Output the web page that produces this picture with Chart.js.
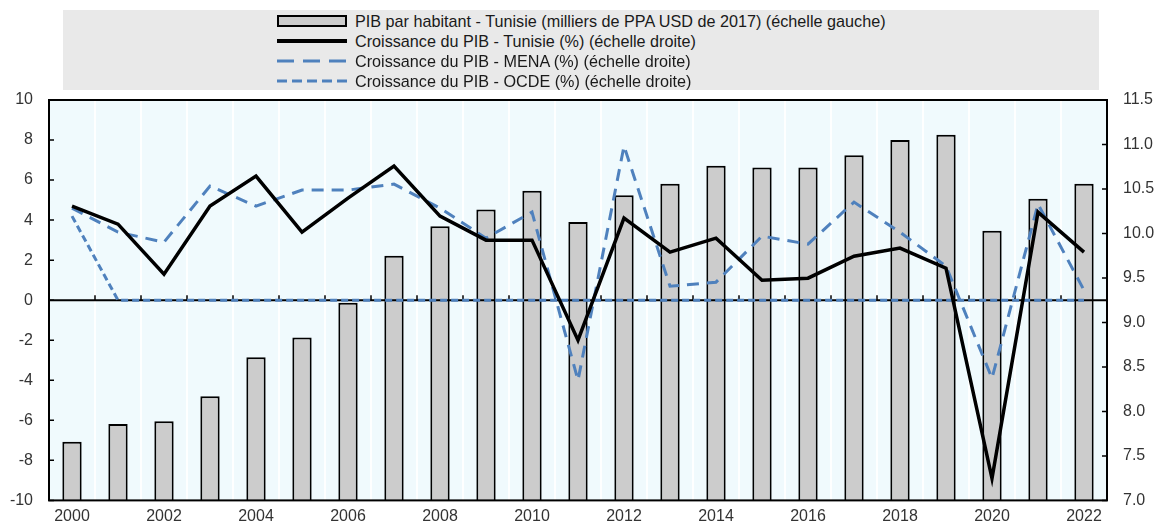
<!DOCTYPE html>
<html><head><meta charset="utf-8">
<script src="https://cdn.jsdelivr.net/npm/chart.js@4.4.0/dist/chart.umd.min.js"></script>
<style>
html,body{margin:0;padding:0;background:#fff;}
#wrap{position:relative;width:1161px;height:526px;}
#c{position:absolute;left:0;top:0;}
#legend{position:absolute;left:63px;top:10px;width:1036px;height:80px;background:#e9e9e9;font-family:"Liberation Sans",Arial,sans-serif;font-size:16.2px;color:#1a1a1a;}
.row{position:absolute;left:214px;height:20px;display:flex;align-items:center;white-space:nowrap;}
.row svg{margin-right:8px;flex:none;}
</style></head>
<body>
<div id="wrap">
<canvas id="c" width="1161" height="526"></canvas>
<div id="legend">
 <div class="row" style="top:1px"><svg width="70" height="14"><rect x="1" y="2" width="68" height="10" fill="#cccccc" stroke="#000" stroke-width="2"/></svg><span>PIB par habitant - Tunisie (milliers de PPA USD de 2017) (échelle gauche)</span></div>
 <div class="row" style="top:21px"><svg width="70" height="14"><line x1="0" y1="7" x2="70" y2="7" stroke="#000" stroke-width="4"/></svg><span>Croissance du PIB - Tunisie (%) (échelle droite)</span></div>
 <div class="row" style="top:41px"><svg width="70" height="14"><line x1="0" y1="7" x2="70" y2="7" stroke="#4f81bd" stroke-width="3" stroke-dasharray="17 9"/></svg><span>Croissance du PIB - MENA (%) (échelle droite)</span></div>
 <div class="row" style="top:61px"><svg width="70" height="14"><line x1="0" y1="7" x2="70" y2="7" stroke="#4f81bd" stroke-width="3" stroke-dasharray="10 5"/></svg><span>Croissance du PIB - OCDE (%) (échelle droite)</span></div>
</div>
</div>
<script>
const years = ['2000','2001','2002','2003','2004','2005','2006','2007','2008','2009','2010','2011','2012','2013','2014','2015','2016','2017','2018','2019','2020','2021','2022'];
const shownYears = ['2000','2002','2004','2006','2008','2010','2012','2014','2016','2018','2020','2022'];
const pibHabitant = [7.66,7.86,7.89,8.17,8.61,8.83,9.22,9.75,10.08,10.27,10.48,10.13,10.43,10.56,10.76,10.74,10.74,10.88,11.05,11.11,10.03,10.39,10.56];
const croissanceTunisie = [4.7,3.8,1.3,4.7,6.2,3.4,5.1,6.7,4.2,3.0,3.0,-2.0,4.1,2.4,3.1,1.0,1.1,2.2,2.6,1.6,-8.9,4.4,2.4];
const croissanceMENA = [4.6,3.4,2.9,5.7,4.7,5.5,5.5,5.8,4.6,3.1,4.4,-4.0,7.7,0.7,0.9,3.2,2.8,4.9,3.4,1.7,-3.9,4.8,0.5];
const croissanceOCDE = [4.2,0,0,0,0,0,0,0,0,0,0,0,0,0,0,0,0,0,0,0,0,0,0];
const leftTicks = [-10,-8,-6,-4,-2,0,2,4,6,8,10];
const rightTicks = [7.0,7.5,8.0,8.5,9.0,9.5,10.0,10.5,11.0,11.5];

const FONT = {family:"'Liberation Sans', Arial, sans-serif", size:16};
const TXT = '#333333';

const framePlugin = {
  id:'framePlugin',
  beforeDraw(chart){
    const {ctx, chartArea:a} = chart;
    ctx.save();
    ctx.fillStyle = '#f0fafd';
    ctx.fillRect(a.left, a.top, a.right-a.left, a.bottom-a.top);
    ctx.restore();
  },
  afterDatasetDraw(chart, args){
    if(args.index !== 0) return;
    const {ctx, chartArea:a, scales} = chart;
    const y0 = scales.yL.getPixelForValue(0);
    ctx.save();
    ctx.strokeStyle = '#000';
    ctx.lineWidth = 2;
    ctx.beginPath(); ctx.moveTo(a.left, y0); ctx.lineTo(a.right, y0); ctx.stroke();
    ctx.lineWidth = 1.5;
    ctx.beginPath();
    for(let i=1;i<years.length;i++){
      const px = (scales.x.getPixelForValue(i-1) + scales.x.getPixelForValue(i))/2;
      ctx.moveTo(px, y0); ctx.lineTo(px, y0-5);
    }
    ctx.stroke();
    ctx.restore();
  },
  afterDraw(chart){
    const {ctx, chartArea:a, scales} = chart;
    ctx.save();
    ctx.strokeStyle = '#000';
    ctx.lineWidth = 1.5;
    ctx.beginPath();
    leftTicks.forEach(v=>{ const y=scales.yL.getPixelForValue(v); ctx.moveTo(a.left, y); ctx.lineTo(a.left+5, y); });
    rightTicks.forEach(v=>{ const y=scales.yR.getPixelForValue(v); ctx.moveTo(a.right, y); ctx.lineTo(a.right-5, y); });
    ctx.stroke();
    ctx.lineWidth = 2;
    ctx.strokeRect(a.left, a.top, a.right-a.left, a.bottom-a.top);
    ctx.restore();
  }
};

new Chart(document.getElementById('c'), {
  type:'bar',
  data:{
    labels: years,
    datasets:[
      {type:'bar', label:'PIB par habitant - Tunisie (milliers de PPA USD de 2017) (échelle gauche)', data:pibHabitant, yAxisID:'yR', backgroundColor:'#cccccc', borderColor:'#000', borderWidth:2, barPercentage:0.42, categoryPercentage:1, order:4},
      {type:'line', label:'Croissance du PIB - Tunisie (%) (échelle droite)', data:croissanceTunisie, yAxisID:'yL', borderColor:'#000', borderWidth:3.5, pointRadius:0, tension:0, fill:false, order:1},
      {type:'line', label:'Croissance du PIB - MENA (%) (échelle droite)', data:croissanceMENA, yAxisID:'yL', borderColor:'#4f81bd', borderWidth:3, borderDash:[12,8], pointRadius:0, tension:0, fill:false, order:2},
      {type:'line', label:'Croissance du PIB - OCDE (%) (échelle droite)', data:croissanceOCDE, yAxisID:'yL', borderColor:'#4f81bd', borderWidth:3, borderDash:[7,4], pointRadius:0, tension:0, fill:false, order:3}
    ]
  },
  options:{
    responsive:false, animation:false, devicePixelRatio:1,
    layout:{padding:{top:100,left:0,right:0,bottom:0}},
    plugins:{legend:{display:false}, tooltip:{enabled:false}},
    scales:{
      x:{
        offset:true,
        grid:{display:true, offset:true, color:'rgba(255,255,255,0.9)', lineWidth:2, drawTicks:false},
        border:{display:false},
        ticks:{autoSkip:false, maxRotation:0, padding:7, color:TXT, font:FONT,
          callback:function(v,i){ const l=years[i]; return shownYears.includes(l)? l : ''; }},
        afterFit(s){ s.height = 25; }
      },
      yL:{
        position:'left', min:-10, max:10,
        grid:{display:false, drawTicks:false}, border:{display:false},
        ticks:{stepSize:2, padding:16, color:TXT, font:FONT},
        afterBuildTicks(s){ s.ticks = leftTicks.map(v=>({value:v})); },
        afterFit(s){ s.width = 49; }
      },
      yR:{
        position:'right', min:7, max:11.5,
        grid:{display:false, drawTicks:false}, border:{display:false},
        ticks:{stepSize:0.5, padding:16, color:TXT, font:FONT, callback:v=>Number(v).toFixed(1)},
        afterBuildTicks(s){ s.ticks = rightTicks.map(v=>({value:v})); },
        afterFit(s){ s.width = 54; }
      }
    }
  },
  plugins:[framePlugin]
});
</script>
</body></html>
